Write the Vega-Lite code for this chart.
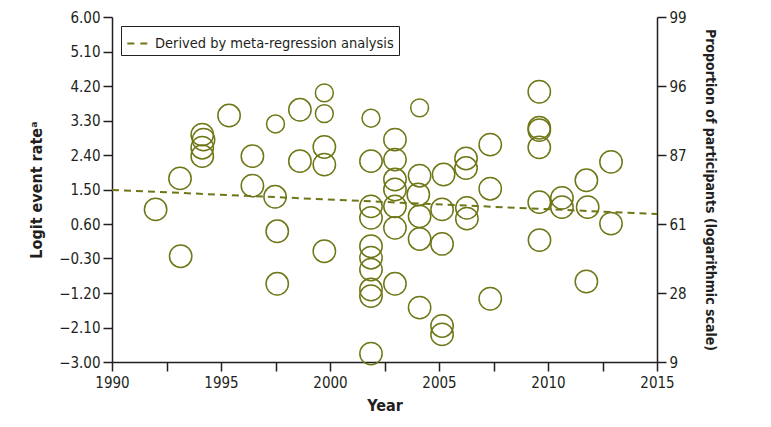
{
  "$schema": "https://vega.github.io/schema/vega-lite/v6.json",
  "width": 545,
  "height": 345,
  "autosize": {"type": "none"},
  "padding": {"left": 112, "top": 17, "right": 114, "bottom": 65},
  "background": "white",
  "config": {
    "view": {"stroke": null},
    "font": "'DejaVu Sans Condensed', Roboto, sans-serif",
    "axis": {
      "domainColor": "#231f20",
      "domainWidth": 1.5,
      "tickColor": "#231f20",
      "tickWidth": 1.5,
      "labelColor": "#231f20",
      "titleColor": "#231f20",
      "labelFont": "'DejaVu Sans Condensed', Roboto, sans-serif",
      "titleFont": "'DejaVu Sans Condensed', Roboto, sans-serif",
      "labelFontSize": 15,
      "titleFontSize": 16,
      "titleFontWeight": "bold",
      "grid": false
    }
  },
  "layer": [
    {
      "data": {
        "values": [
          {"year": 1992.0, "logit": 0.98, "w": 2},
          {"year": 1993.15, "logit": -0.24, "w": 2},
          {"year": 1993.12, "logit": 1.79, "w": 2},
          {"year": 1994.14, "logit": 2.93, "w": 2},
          {"year": 1994.2, "logit": 2.8, "w": 2},
          {"year": 1994.14, "logit": 2.59, "w": 2},
          {"year": 1994.14, "logit": 2.37, "w": 2},
          {"year": 1995.37, "logit": 3.43, "w": 2},
          {"year": 1996.44, "logit": 2.37, "w": 2},
          {"year": 1996.44, "logit": 1.6, "w": 2},
          {"year": 1997.5, "logit": 3.21, "w": 1},
          {"year": 1997.48, "logit": 1.31, "w": 2},
          {"year": 1997.58, "logit": 0.41, "w": 2},
          {"year": 1997.58, "logit": -0.96, "w": 2},
          {"year": 1998.62, "logit": 3.58, "w": 2},
          {"year": 1998.62, "logit": 2.24, "w": 2},
          {"year": 1999.74, "logit": 4.02, "w": 1},
          {"year": 1999.74, "logit": 3.48, "w": 1},
          {"year": 1999.74, "logit": 2.61, "w": 2},
          {"year": 1999.74, "logit": 2.15, "w": 2},
          {"year": 1999.74, "logit": -0.11, "w": 2},
          {"year": 2001.88, "logit": 3.36, "w": 1},
          {"year": 2001.88, "logit": 2.24, "w": 2},
          {"year": 2001.88, "logit": 1.06, "w": 2},
          {"year": 2001.88, "logit": 0.76, "w": 2},
          {"year": 2001.88, "logit": 0.02, "w": 2},
          {"year": 2001.88, "logit": -0.28, "w": 2},
          {"year": 2001.88, "logit": -0.59, "w": 2},
          {"year": 2001.88, "logit": -1.11, "w": 2},
          {"year": 2001.88, "logit": -1.28, "w": 2},
          {"year": 2001.88, "logit": -2.78, "w": 2},
          {"year": 2002.98, "logit": 2.8, "w": 2},
          {"year": 2002.98, "logit": 2.28, "w": 2},
          {"year": 2002.98, "logit": 1.76, "w": 2},
          {"year": 2002.98, "logit": 1.5, "w": 2},
          {"year": 2002.98, "logit": 1.06, "w": 2},
          {"year": 2002.98, "logit": 0.5, "w": 2},
          {"year": 2002.98, "logit": -0.96, "w": 2},
          {"year": 2004.11, "logit": 3.63, "w": 1},
          {"year": 2004.11, "logit": 1.86, "w": 2},
          {"year": 2004.05, "logit": 1.37, "w": 2},
          {"year": 2004.11, "logit": 0.8, "w": 2},
          {"year": 2004.11, "logit": 0.21, "w": 2},
          {"year": 2004.11, "logit": -1.58, "w": 2},
          {"year": 2005.21, "logit": 1.89, "w": 2},
          {"year": 2005.14, "logit": 0.98, "w": 2},
          {"year": 2005.14, "logit": 0.08, "w": 2},
          {"year": 2005.14, "logit": -2.06, "w": 2},
          {"year": 2005.14, "logit": -2.28, "w": 2},
          {"year": 2006.24, "logit": 2.31, "w": 2},
          {"year": 2006.24, "logit": 2.06, "w": 2},
          {"year": 2006.28, "logit": 1.02, "w": 2},
          {"year": 2006.28, "logit": 0.74, "w": 2},
          {"year": 2007.35, "logit": 2.67, "w": 2},
          {"year": 2007.35, "logit": 1.52, "w": 2},
          {"year": 2007.35, "logit": -1.35, "w": 2},
          {"year": 2009.6, "logit": 4.05, "w": 2},
          {"year": 2009.6, "logit": 3.11, "w": 2},
          {"year": 2009.6, "logit": 3.05, "w": 2},
          {"year": 2009.6, "logit": 2.6, "w": 2},
          {"year": 2009.6, "logit": 1.17, "w": 2},
          {"year": 2009.61, "logit": 0.18, "w": 2},
          {"year": 2010.64, "logit": 1.28, "w": 2},
          {"year": 2010.64, "logit": 1.04, "w": 2},
          {"year": 2011.76, "logit": 1.74, "w": 2},
          {"year": 2011.82, "logit": 1.04, "w": 2},
          {"year": 2011.76, "logit": -0.9, "w": 2},
          {"year": 2012.89, "logit": 2.22, "w": 2},
          {"year": 2012.89, "logit": 0.61, "w": 2}
        ]
      },
      "mark": {"type": "point", "filled": false, "shape": "circle", "strokeWidth": 1.5, "color": "#6f7616", "opacity": 1},
      "encoding": {
        "x": {
          "field": "year", "type": "quantitative",
          "scale": {"domain": [1990, 2015], "nice": false, "zero": false},
          "axis": {
            "title": "Year",
            "values": [1990, 1992.5, 1995, 1997.5, 2000, 2002.5, 2005, 2007.5, 2010, 2012.5, 2015],
            "labelExpr": "datum.value % 5 == 0 ? format(datum.value, 'd') : ''",
            "tickSize": 9,
            "labelPadding": 4,
            "titlePadding": 7,
            "labelFlush": false,
            "labelOverlap": false
          }
        },
        "y": {
          "field": "logit", "type": "quantitative",
          "scale": {"domain": [-3, 6], "nice": false, "zero": false},
          "axis": {
            "title": "Logit event rateᵃ",
            "orient": "left",
            "values": [-3, -2.1, -1.2, -0.3, 0.6, 1.5, 2.4, 3.3, 4.2, 5.1, 6],
            "labelExpr": "replace(format(datum.value, '.2f'), '-', '−')",
            "tickSize": 9,
            "labelPadding": 3,
            "titlePadding": 14,
            "labelFlush": false,
            "labelOverlap": false
          }
        },
        "size": {
          "field": "w", "type": "quantitative",
          "scale": {"domain": [1, 2], "range": [320, 500]},
          "legend": null
        }
      }
    },
    {
      "data": {
        "values": [
          {"year": 1990, "fit": 1.49, "series": "Derived by meta-regression analysis"},
          {"year": 2015, "fit": 0.86, "series": "Derived by meta-regression analysis"}
        ]
      },
      "mark": {"type": "line", "strokeWidth": 2, "strokeDash": [7, 5]},
      "encoding": {
        "x": {"field": "year", "type": "quantitative"},
        "y": {
          "field": "fit", "type": "quantitative",
          "axis": {
            "title": "Proportion of participants (logarithmic scale)",
            "titleFontSize": 14,
            "orient": "right",
            "values": [-3, -1.2, 0.6, 2.4, 4.2, 6],
            "labelExpr": "datum.value > 5 ? '99' : datum.value > 3 ? '96' : datum.value > 1.5 ? '87' : datum.value > 0 ? '61' : datum.value > -2 ? '28' : '9'",
            "tickSize": 9,
            "labelPadding": 3,
            "titlePadding": 16,
            "labelFlush": false,
            "labelOverlap": false
          }
        },
        "color": {
          "field": "series", "type": "nominal",
          "scale": {"range": ["#6f7616"]},
          "legend": {
            "title": null,
            "orient": "none",
            "legendX": 9,
            "legendY": 9,
            "strokeColor": "#231f20",
            "fillColor": "white",
            "padding": 5,
            "symbolType": "stroke",
            "symbolStrokeWidth": 2,
            "symbolDash": [7, 6],
            "symbolSize": 500,
            "labelFontSize": 14.5,
            "labelFont": "'DejaVu Sans Condensed', Roboto, sans-serif",
            "labelColor": "#231f20",
            "labelLimit": 400
          }
        }
      }
    }
  ],
  "resolve": {"scale": {"y": "shared"}, "axis": {"y": "independent"}}
}
